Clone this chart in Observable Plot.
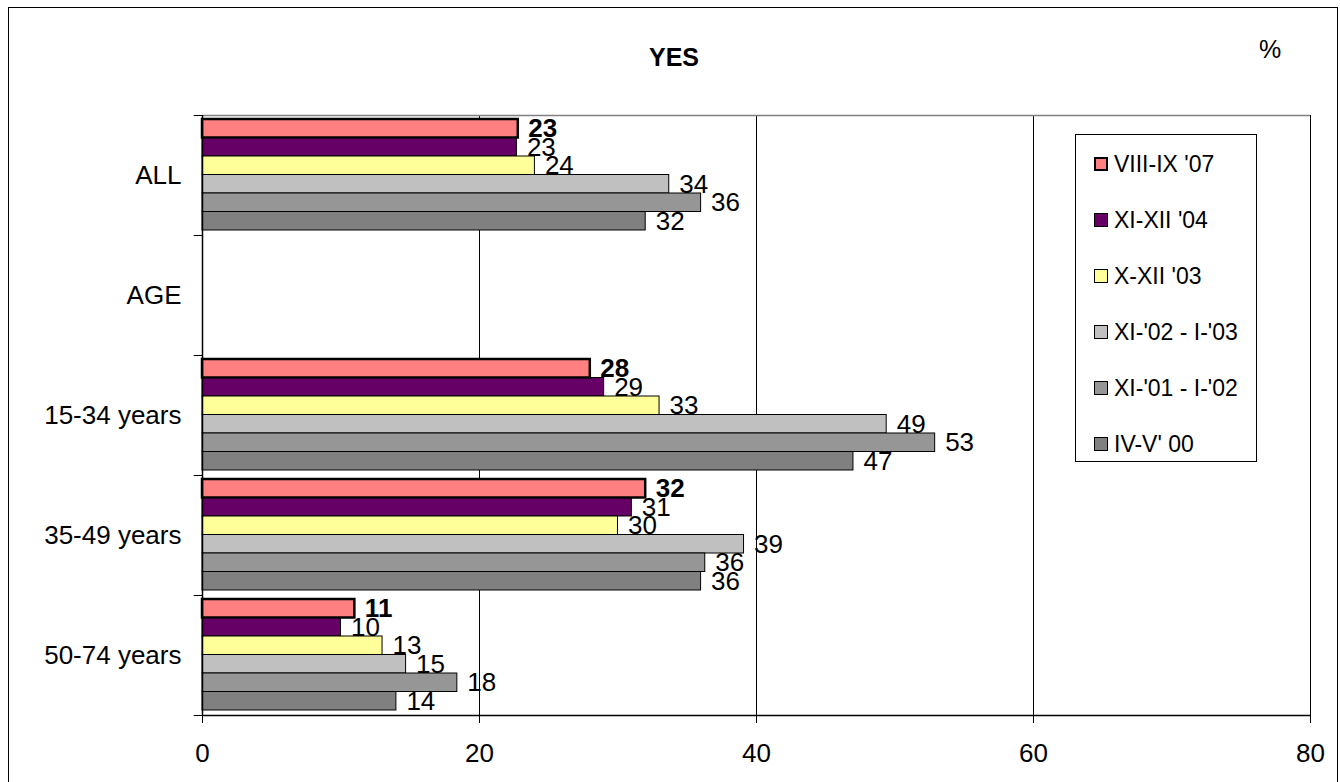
<!DOCTYPE html>
<html>
<head>
<meta charset="utf-8">
<script src="https://cdn.jsdelivr.net/npm/d3@7"></script>
<script src="https://cdn.jsdelivr.net/npm/@observablehq/plot@0.6"></script>
<style>
  html, body { margin: 0; padding: 0; background: #fff; overflow: hidden; }
  #wrap { position: relative; width: 1340px; height: 782px; font-family: "Liberation Sans", Arial, sans-serif; }
  #frame { position: absolute; left: 8px; top: 7px; width: 1328px; height: 800px; border: 1px solid #000; pointer-events: none; }
  #title { position: absolute; left: 0; width: 1348px; top: 41px; text-align: center; font-weight: bold; font-size: 25px; line-height: 32px; }
  #pct { position: absolute; left: 1259px; top: 33px; font-size: 25px; line-height: 32px; }
  #legend { position: absolute; left: 1075px; top: 134px; width: 182px; height: 328px; border: 1px solid #000; box-sizing: border-box; }
  .row { position: absolute; left: 18px; display: flex; align-items: center; height: 28px; font-size: 23px; white-space: nowrap; }
  .sw { width: 14px; height: 14px; border: 1px solid #000; margin-right: 6px; box-sizing: border-box; }
  #chart { position: absolute; left: 0; top: 0; }
</style>
</head>
<body>
<div id="wrap">
  <div id="chart"></div>
  <div id="title"></div>
  <div id="pct">%</div>
  <div id="legend"></div>
  <div id="frame"></div>
</div>
<script>
const titleText = "YES";
const categories = ["ALL", "AGE", "15-34 years", "35-49 years", "50-74 years"];
const seriesNames = ["VIII-IX '07", "XI-XII '04", "X-XII '03", "XI-'02 - I-'03", "XI-'01 - I-'02", "IV-V' 00"];
const seriesColors = ["#FF8080", "#660066", "#FFFF99", "#C0C0C0", "#969696", "#808080"];
const xTicks = [0, 20, 40, 60, 80];

const v07 = [22.8, null, 28.0, 32.0, 11.0];
const v04 = [22.7, null, 29.0, 31.0, 10.0];
const v03 = [24.0, null, 33.0, 30.0, 13.0];
const v02 = [33.7, null, 49.4, 39.1, 14.7];
const v01 = [36.0, null, 52.9, 36.3, 18.4];
const v00 = [32.0, null, 47.0, 36.0, 14.0];
const seriesValues = [v07, v04, v03, v02, v01, v00];

const rows = [];
seriesValues.forEach((vals, i) => vals.forEach((v, k) => {
  if (v != null) rows.push({series: seriesNames[i], i, k, value: v});
}));

const pad = 4 / 120, h = 18.5 / 120;
const y1 = d => d.k + pad + d.i * h;
const y2 = d => d.k + pad + (d.i + 1) * h;
const ym = d => d.k + pad + (d.i + 0.5) * h;
const first = rows.filter(d => d.i === 0);
const rest = rows.filter(d => d.i !== 0);

const plot = Plot.plot({
  width: 1340,
  height: 782,
  marginLeft: 202,
  marginRight: 30,
  marginTop: 115,
  marginBottom: 67,
  style: {fontFamily: "'Liberation Sans', Arial, sans-serif", fontSize: "26px", color: "#000", background: "transparent"},
  x: {domain: [0, 80], label: null},
  y: {domain: [0, categories.length], reverse: true, label: null},
  color: {domain: seriesNames, range: seriesColors},
  marks: [
    Plot.ruleX(xTicks.slice(1), {stroke: "#000", strokeWidth: 1}),
    Plot.ruleY([0], {stroke: "#808080", strokeWidth: 1.5}),
    Plot.rect(rest, {x1: 0, x2: "value", y1, y2, fill: "series", stroke: "#000", strokeWidth: 1}),
    Plot.rect(first, {x1: 0, x2: "value", y1, y2, fill: "series", stroke: "#000", strokeWidth: 2.5}),
    Plot.ruleX([0], {stroke: "#000", strokeWidth: 1.5}),
    Plot.ruleY([categories.length], {stroke: "#000", strokeWidth: 1.5}),
    Plot.ruleY(d3.range(categories.length + 1), {x1: -0.6, x2: 0, stroke: "#000", strokeWidth: 1}),
    Plot.text(rest, {x: "value", y: ym, text: d => String(Math.round(d.value)), dx: 10, textAnchor: "start", fill: "#000", fontSize: 26}),
    Plot.text(first, {x: "value", y: ym, text: d => String(Math.round(d.value)), dx: 10, textAnchor: "start", fill: "#000", fontSize: 26, fontWeight: "bold"}),
    Plot.axisX(xTicks, {tickSize: 8, tickPadding: 20, fontSize: 26, stroke: "#000", label: null}),
    Plot.axisY(categories.map((c, k) => k + 0.5), {tickFormat: v => categories[Math.floor(v)], tickSize: 0, tickPadding: 21, fontSize: 26, label: null})
  ]
});
document.getElementById("chart").appendChild(plot);
document.getElementById("title").textContent = titleText;

const legend = document.getElementById("legend");
seriesNames.forEach((name, i) => {
  const row = document.createElement("div");
  row.className = "row";
  row.style.top = (15 + i * 56) + "px";
  const sw = document.createElement("div");
  sw.className = "sw";
  sw.style.background = seriesColors[i];
  if (i === 0) sw.style.border = "2px solid #000";
  const t = document.createElement("span");
  t.textContent = name;
  row.appendChild(sw);
  row.appendChild(t);
  legend.appendChild(row);
});
</script>
</body>
</html>
